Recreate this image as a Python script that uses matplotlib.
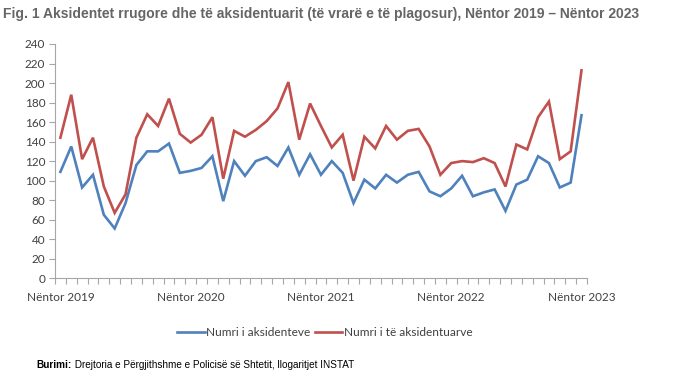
import numpy as np
import matplotlib.pyplot as plt

# monthly values, Nov 2019 - Nov 2023
accidents = [109, 135, 93, 106, 65, 51, 77, 116, 130, 130, 138, 108,
             110, 113, 125, 79, 120, 105, 120, 124, 115, 134, 106, 127,
             106, 120, 108, 77, 101, 92, 106, 98, 106, 109, 89, 84,
             92, 105, 84, 88, 91, 69, 96, 101, 125, 118, 93, 98,
             167]
injured = [144, 188, 122, 144, 94, 67, 86, 144, 168, 156, 184, 148,
           139, 147, 165, 102, 151, 145, 152, 161, 174, 201, 142, 179,
           156, 134, 147, 100, 145, 133, 156, 142, 151, 153, 135, 106,
           118, 120, 119, 123, 118, 94, 137, 132, 165, 181, 122, 130,
           213]
tick_labels = ['Nëntor 2019', 'Nëntor 2020', 'Nëntor 2021', 'Nëntor 2022', 'Nëntor 2023']
series_names = ['Numri i aksidenteve', 'Numri i të aksidentuarve']

BLUE = '#4f81bd'
RED = '#c0504d'
GRID = '#a6a6a6'
TXT = '#404040'

fig = plt.figure(figsize=(6.82, 3.76), dpi=100)
ax = fig.add_axes([0.0806, 0.26, 0.780, 0.623])

x = np.arange(len(accidents))
ax.plot(x, accidents, color=BLUE, lw=1.9, label=series_names[0], solid_joinstyle='miter')
ax.plot(x, injured, color=RED, lw=1.9, label=series_names[1], solid_joinstyle='miter')

ax.set_xlim(-0.5, len(x) - 0.5)
ax.set_ylim(0, 240)
ax.set_yticks(np.arange(0, 241, 20))
ax.set_xticks(np.arange(-0.5, len(x), 1), minor=True)
ax.set_xticks(np.arange(0, len(x), 12))
ax.set_xticklabels(tick_labels)

for s in ['top', 'right']:
    ax.spines[s].set_visible(False)
for s in ['left', 'bottom']:
    ax.spines[s].set_color(GRID)
    ax.spines[s].set_linewidth(0.8)

ax.tick_params(axis='x', which='major', length=0, pad=10)
ax.tick_params(axis='x', which='minor', length=4, color=GRID, width=0.8)
ax.tick_params(axis='y', length=4, color=GRID, width=0.8, pad=3)
for lab in ax.get_xticklabels() + ax.get_yticklabels():
    lab.set_family('Lato')
    lab.set_fontsize(8.5)
    lab.set_color(TXT)

leg = fig.legend(loc='center', bbox_to_anchor=(0.476, 0.115), ncol=2, frameon=False,
                 prop={'family': 'Lato', 'size': 8.6}, handlelength=2.3,
                 handletextpad=0.1, columnspacing=0.4)
for t in leg.get_texts():
    t.set_color(TXT)

fig.text(0.005, 0.963, 'Fig. 1 Aksidentet rrugore dhe të aksidentuarit (të vrarë e të plagosur), '
         'Nëntor 2019 – Nëntor 2023', family='Liberation Sans', weight='bold',
         fontsize=10, color='#656565', va='center')

b = fig.text(0.054, 0.03, 'Burimi:', family='Liberation Sans', weight='bold',
             fontsize=7.2, color='black', va='center')
fig.canvas.draw()
bb = b.get_window_extent().transformed(fig.transFigure.inverted())
fig.text(bb.x1, 0.03, ' Drejtoria e Përgjithshme e Policisë së Shtetit, llogaritjet INSTAT',
         family='Liberation Sans', fontsize=7.2, color='black', va='center')

fig.savefig('out.png', dpi=100)
